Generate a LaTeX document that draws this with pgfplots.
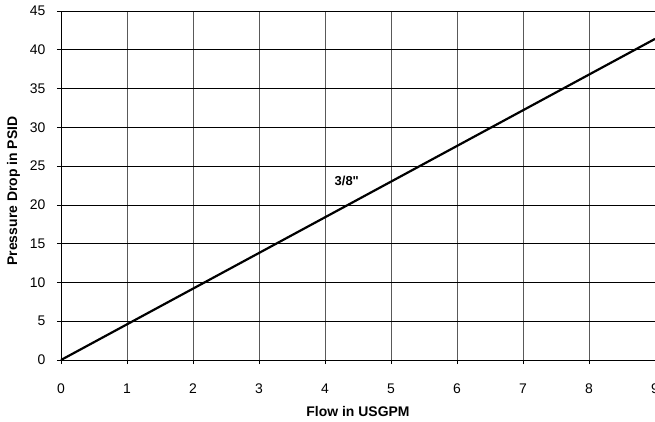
\documentclass[border=0pt]{standalone}
\usepackage{pgfplots}
\pgfplotsset{compat=1.18}
\usepackage{fontspec}
\setmainfont{Liberation Sans}
\newfontfamily\plainfont{Liberation Sans}[Ligatures=TeXOff]
\begin{document}
\begin{tikzpicture}
\begin{axis}[
  scale only axis,
  width=594bp, height=349bp,
  xmin=0, xmax=9, ymin=0, ymax=45,
  xtick={0,...,9}, ytick={0,5,...,45},
  grid=major,
  x grid style={black!65, line width=0.9pt},
  y grid style={black, line width=0.7pt},
  axis line style={black, line width=0.8pt},
  axis x line*=bottom, axis y line*=left,
  tick align=outside, major tick length=4bp,
  tick style={black, line width=0.7pt},
  ticklabel style={font=\fontsize{14}{16}\selectfont},
  /pgf/number format/assume math mode=true,
  xticklabel style={yshift=-16bp},
  yticklabel style={xshift=-8bp},
  xlabel={\textbf{Flow in USGPM}},
  ylabel={\textbf{Pressure Drop in PSID}},
  label style={font=\fontsize{14}{16}\selectfont},
  xlabel style={at={(axis description cs:0.5,-0.149)}, anchor=center},
  ylabel style={at={(axis description cs:-0.08,0.484)}, anchor=center},
  clip=false,
]
\addplot[black, line width=2.2pt] coordinates {(0,0) (9,41.4)};
\node[font=\fontsize{13}{15}\plainfont\bfseries] at (axis cs:4.33,23.1) {3/8"};
\draw[black, line width=0.7pt] (axis cs:0,45) -- (axis cs:9,45);
\end{axis}
\pgfresetboundingbox
\path[use as bounding box] (-61bp,-62bp) rectangle (594bp,360bp);
\end{tikzpicture}
\end{document}
